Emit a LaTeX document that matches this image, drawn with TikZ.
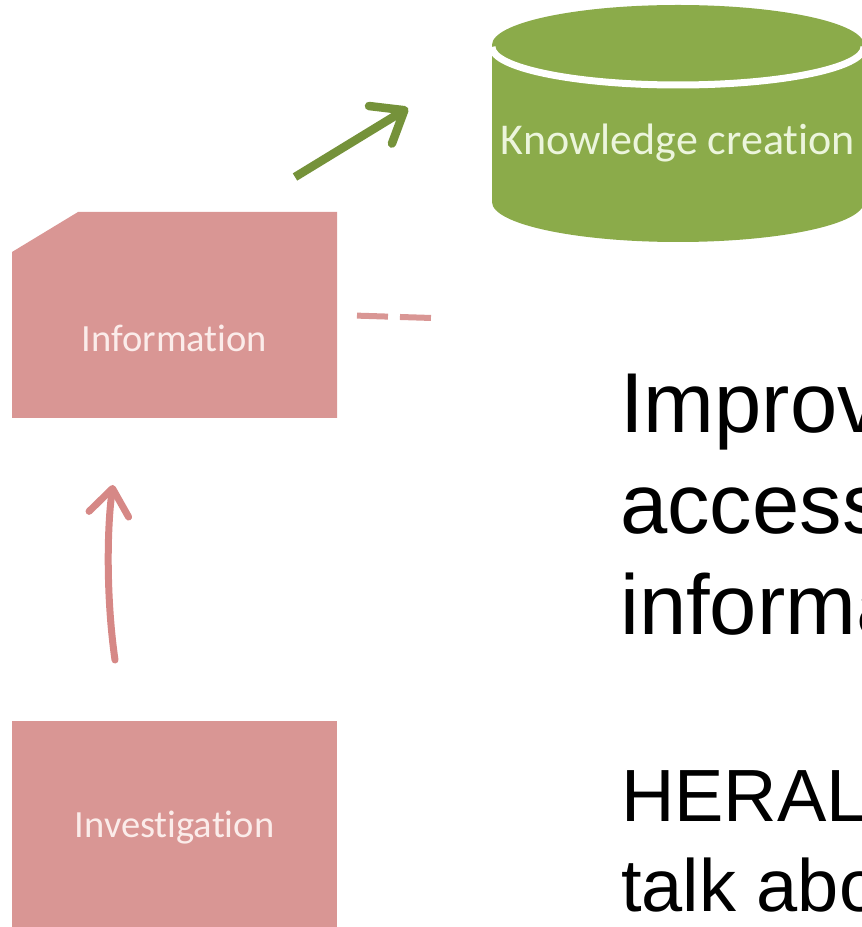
\documentclass[tikz,border=0pt]{standalone}
\usepackage{fontspec}
\setmainfont{Liberation Sans}
\newfontfamily\calib[Ligatures={NoCommon}]{Carlito}
\usepackage{tikz}
\usetikzlibrary{arrows.meta}
\definecolor{boxpink}{RGB}{217,150,148}
\definecolor{arrowpink}{RGB}{214,136,134}
\definecolor{cangreen}{RGB}{139,171,74}
\definecolor{arrowgreen}{RGB}{117,146,58}
\definecolor{pinktext}{RGB}{251,236,234}
\definecolor{greentext}{RGB}{236,245,220}

\begin{document}
\begin{tikzpicture}[x=1pt,y=1pt,
  box/.style={minimum width=325pt,minimum height=206pt,inner sep=0pt,outer sep=0pt},
  boxtext/.style={text=pinktext,inner sep=0pt,font=\calib\fontsize{38.5}{42}\selectfont},
  cantext/.style={text=greentext,inner sep=0pt,font=\calib\fontsize{44}{48}\selectfont},
  bigtext/.style={anchor=north west,align=left,inner sep=0pt,text=black},
  pinkarrow/.style={arrowpink,line width=7pt,line cap=round,-{Straight Barb[length=26pt,width=40pt,round]}},
  greenarrow/.style={arrowgreen,line width=8.5pt,-{Straight Barb[length=28pt,width=44pt,round]}},
  dashline/.style={boxpink,line width=6pt,dash pattern=on 31pt off 12pt,shorten <=20pt}]
\path[use as bounding box,clip] (0,0) rectangle (862,927);
\fill[cangreen] (492,882) -- (492,725) arc[start angle=180,end angle=360,x radius=186,y radius=40]
   -- (864,882) arc[start angle=0,end angle=180,x radius=186,y radius=40] -- cycle;
\draw[white,line width=7pt] (492,880) arc[start angle=180,end angle=360,x radius=186,y radius=38];
\node[cantext] (know) at (678,784) {Knowledge creation};
\node[box] (info) at (174.5,612) {};
\fill[boxpink] (info.south west) -- ([yshift=-40pt]info.north west) -- ([xshift=66pt]info.north west)
   -- (info.north east) -- (info.south east) -- cycle;
\node[boxtext] (infotext) at ([yshift=-23pt]info.center) {Information};
\node[box,fill=boxpink] (inv) at (174.5,103) {};
\node[boxtext] (invtext) at ([yshift=-4pt]inv.center) {Investigation};
\coordinate (ptail) at (115,267);
\coordinate (phead) at (113,442);
\coordinate (gtail) at (295,750);
\coordinate (ghead) at (408,819);
\coordinate (dashend) at (432,609);
\draw[pinkarrow] (ptail) .. controls (106,330) and (107,400) .. (phead);
\draw[greenarrow] (gtail) -- (ghead);
\draw[dashline] (info.east) -- (dashend);
\node[bigtext,font=\fontsize{85}{101}\selectfont] (aim) at (620,553) {Improv\\access\\informa};
\node[bigtext,font=\fontsize{74}{90}\selectfont] (herald) at (621,157) {HERAL\\talk abo};
\end{tikzpicture}
\end{document}
